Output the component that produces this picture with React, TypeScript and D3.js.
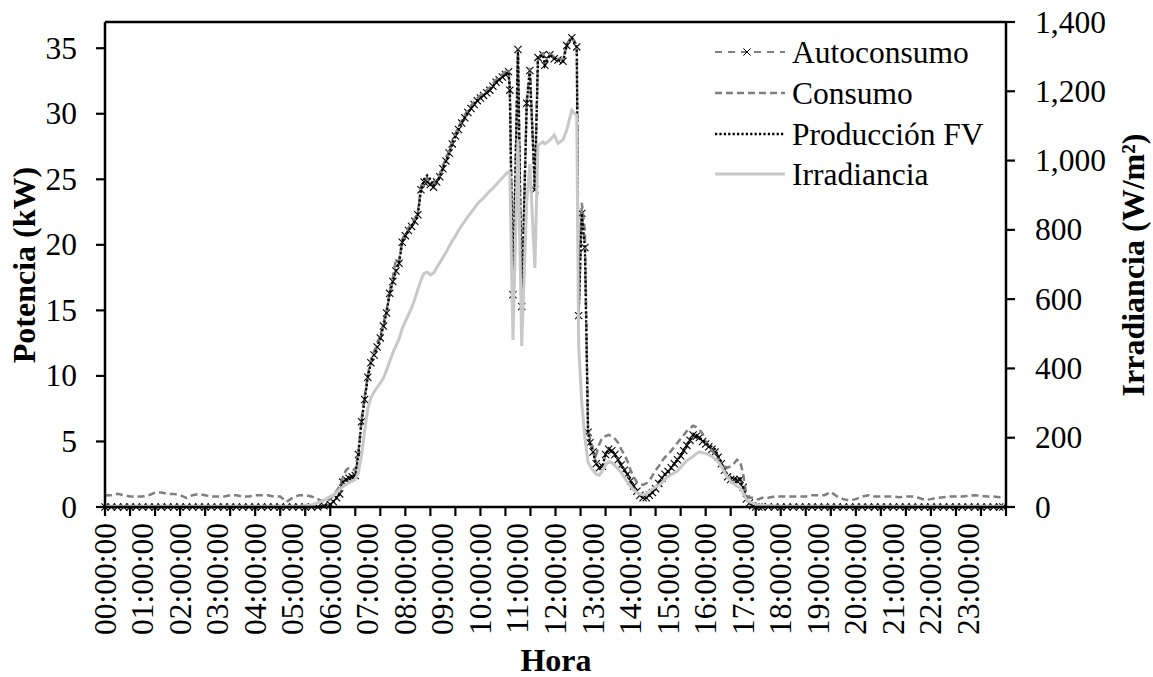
import React from "react";
import * as d3 from "d3";

// ---------- tick labels ----------
const hourLabels = [
  "00:00:00", "01:00:00", "02:00:00", "03:00:00", "04:00:00", "05:00:00",
  "06:00:00", "07:00:00", "08:00:00", "09:00:00", "10:00:00", "11:00:00",
  "12:00:00", "13:00:00", "14:00:00", "15:00:00", "16:00:00", "17:00:00",
  "18:00:00", "19:00:00", "20:00:00", "21:00:00", "22:00:00", "23:00:00",
];
const leftTicks = [0, 5, 10, 15, 20, 25, 30, 35];
const rightTicks = [0, 200, 400, 600, 800, 1000, 1200, 1400];
const seriesNames = ["Autoconsumo", "Consumo", "Producción FV", "Irradiancia"];

// ---------- data: night (00:00 - 05:50) ----------
const times1 = [
  "00:00", "00:10", "00:20", "00:30", "00:40", "00:50", "01:00", "01:10", "01:20", "01:30", "01:40", "01:50",
  "02:00", "02:10", "02:20", "02:30", "02:40", "02:50", "03:00", "03:10", "03:20", "03:30", "03:40", "03:50",
  "04:00", "04:10", "04:20", "04:30", "04:40", "04:50", "05:00", "05:10", "05:20", "05:30", "05:40", "05:50",
];
const auto1 = [0, 0, 0, 0, 0, 0, 0, 0, 0, 0, 0, 0, 0, 0, 0, 0, 0, 0, 0, 0, 0, 0, 0, 0, 0, 0, 0, 0, 0, 0, 0, 0, 0, 0, 0, 0.1];
const cons1 = [0.9, 0.9, 1.0, 0.9, 0.8, 0.8, 0.8, 0.9, 1.1, 1.1, 1.0, 1.0, 0.9, 0.7, 0.9, 1.0, 0.9, 0.8, 0.8, 0.8, 0.9, 0.9, 0.8, 0.8, 0.9, 0.9, 0.9, 0.8, 0.8, 0.4, 0.7, 0.9, 0.9, 0.8, 0.6, 0.4];
const prod1 = [0, 0, 0, 0, 0, 0, 0, 0, 0, 0, 0, 0, 0, 0, 0, 0, 0, 0, 0, 0, 0, 0, 0, 0, 0, 0, 0, 0, 0, 0, 0, 0, 0, 0, 0, 0.1];
const irr1 = [2, 2, 2, 2, 2, 2, 2, 2, 2, 2, 2, 2, 2, 2, 2, 2, 2, 2, 2, 2, 2, 2, 2, 2, 2, 2, 2, 2, 2, 2, 2, 2, 4, 6, 12, 20];

// ---------- data: morning (06:00 - 10:45) ----------
const times2 = [
  "06:00", "06:05", "06:10", "06:15", "06:20", "06:25", "06:30", "06:35", "06:40", "06:45", "06:50", "06:55",
  "07:00", "07:05", "07:10", "07:15", "07:20", "07:25", "07:30", "07:35", "07:40", "07:45", "07:50", "07:55",
  "08:00", "08:05", "08:10", "08:15", "08:20", "08:25", "08:30", "08:35", "08:40", "08:45", "08:50", "08:55",
  "09:00", "09:05", "09:10", "09:15", "09:20", "09:25", "09:30", "09:35", "09:40", "09:45", "09:50", "09:55",
  "10:00", "10:05", "10:10", "10:15", "10:20", "10:25", "10:30", "10:35", "10:40", "10:45",
];
const auto2 = [
  0.2, 0.4, 0.7, 1.0, 1.9, 2.1, 2.2, 2.3, 2.4, 4.0, 6.5, 8.2,
  9.9, 11.0, 11.6, 12.2, 12.9, 13.8, 14.8, 16.3, 17.2, 18.0, 18.6, 20.2,
  20.7, 21.1, 21.4, 21.8, 22.3, 24.2, 24.8, 24.8, 24.6, 24.4, 24.8, 25.2,
  25.8, 26.4, 27.0, 27.7, 28.3, 28.8, 29.3, 29.7, 30.1, 30.4, 30.7, 31.0,
  31.2, 31.4, 31.6, 31.8, 32.1, 32.4, 32.6, 32.8, 33.0, 33.2,
];
const cons2 = [
  0.6, 0.9, 1.2, 1.6, 2.2, 2.8, 3.0, 2.9, 2.8, 4.2, 6.7, 8.4,
  10.1, 11.2, 11.8, 12.4, 13.1, 14.0, 15.0, 16.5, 17.5, 18.9, 18.8, 20.4,
  20.9, 21.3, 21.6, 22.0, 22.5, 24.4, 25.0, 25.1, 24.9, 24.6, 25.0, 25.4,
  26.0, 26.6, 27.2, 27.9, 28.5, 29.0, 29.5, 29.9, 30.3, 30.6, 30.9, 31.2,
  31.4, 31.6, 31.8, 32.0, 32.3, 32.6, 32.8, 33.0, 33.2, 33.4,
];
const prod2 = [
  0.2, 0.4, 0.7, 1.0, 1.9, 2.1, 2.2, 2.3, 2.4, 4.0, 6.5, 8.2,
  9.9, 11.0, 11.6, 12.2, 12.9, 13.8, 14.8, 16.3, 17.2, 18.0, 18.6, 20.2,
  20.7, 21.1, 21.4, 21.8, 22.3, 24.2, 25.0, 25.3, 25.0, 24.5, 24.8, 25.2,
  25.8, 26.4, 27.0, 27.7, 28.3, 28.8, 29.3, 29.7, 30.1, 30.4, 30.7, 31.0,
  31.2, 31.4, 31.6, 31.8, 32.1, 32.4, 32.6, 32.8, 33.0, 33.2,
];
const irr2 = [
  30, 35, 42, 50, 58, 65, 70, 74, 80, 100, 150, 220,
  285, 315, 332, 345, 358, 372, 395, 420, 445, 465, 485, 515,
  535, 555, 575, 600, 628, 655, 675, 678, 670, 675, 690, 705,
  720, 735, 752, 768, 782, 798, 812, 825, 838, 850, 862, 874,
  884, 892, 902, 912, 920, 930, 940, 950, 960, 968,
];

// ---------- data: midday with cloud dips (10:47 - 12:52) ----------
const times3 = [
  "10:47", "10:52", "11:00", "11:06", "11:14", "11:19", "11:27", "11:32", "11:40", "11:43", "11:51",
  "11:58", "12:04", "12:12", "12:18", "12:26", "12:34", "12:37", "12:42", "12:47", "12:52",
];
const auto3 = [31.8, 16.2, 34.9, 15.3, 30.8, 33.3, 24.2, 34.3, 34.5, 33.7, 34.5, 34.2, 34.1, 34.0, 35.2, 35.8, 35.1, 14.6, 22.4, 19.8, 5.7];
const cons3 = [32.0, 16.4, 35.0, 15.5, 31.0, 33.5, 24.4, 34.4, 34.6, 33.9, 34.6, 34.3, 34.2, 34.1, 35.3, 35.9, 35.2, 14.8, 23.2, 21.0, 6.0];
const prod3 = [31.8, 16.2, 34.9, 15.3, 30.8, 33.3, 24.2, 34.3, 34.5, 33.7, 34.5, 34.2, 34.1, 34.0, 35.2, 35.8, 35.1, 14.6, 22.4, 19.8, 5.7];
const irr3 = [966, 482, 1059, 465, 880, 990, 690, 1045, 1054, 1048, 1059, 1074, 1050, 1060, 1088, 1145, 1130, 465, 300, 200, 130];

// ---------- data: afternoon (12:55 - 17:30) ----------
const times4 = [
  "12:55", "13:00", "13:05", "13:10", "13:15", "13:20", "13:25", "13:30", "13:35", "13:40", "13:45", "13:50",
  "13:55", "14:00", "14:05", "14:10", "14:15", "14:20", "14:25", "14:30", "14:35", "14:40", "14:45", "14:50",
  "14:55", "15:00", "15:05", "15:10", "15:15", "15:20", "15:25", "15:30", "15:35", "15:40", "15:45", "15:50",
  "15:55", "16:00", "16:05", "16:10", "16:15", "16:20", "16:25", "16:30", "16:35", "16:40", "16:45", "16:50",
  "16:55", "17:00", "17:05", "17:10", "17:15", "17:20", "17:25", "17:30",
];
const auto4 = [
  4.9, 4.2, 3.3, 3.0, 3.1, 4.0, 4.4, 4.3, 4.0, 3.6, 3.2, 2.8,
  2.5, 2.0, 1.6, 1.2, 0.9, 0.7, 0.7, 0.9, 1.1, 1.4, 1.8, 2.2,
  2.5, 2.7, 3.0, 3.3, 3.6, 3.9, 4.3, 4.7, 5.1, 5.5, 5.4, 5.3,
  5.0, 4.8, 4.6, 4.4, 4.2, 3.8, 3.3, 2.8, 2.3, 2.1, 2.1, 2.0,
  2.1, 1.5, 0.6, 0.3, 0.1, 0, 0, 0,
];
const cons4 = [
  5.2, 4.4, 4.0, 4.8, 5.3, 5.4, 5.5, 5.4, 5.2, 4.9, 4.4, 4.0,
  3.5, 2.8, 2.3, 1.9, 1.7, 1.7, 1.8, 2.0, 2.4, 2.8, 3.1, 3.5,
  3.8, 4.0, 4.3, 4.6, 4.9, 5.2, 5.5, 5.8, 6.0, 6.2, 6.1, 5.9,
  5.6, 5.0, 4.6, 4.3, 4.0, 3.7, 3.4, 3.1, 3.0, 3.1, 3.3, 3.6,
  3.5, 2.5, 0.9, 0.7, 0.7, 0.6, 0.6, 0.7,
];
const prod4 = [
  4.9, 4.2, 3.3, 3.0, 3.1, 4.0, 4.4, 4.3, 4.0, 3.6, 3.2, 2.8,
  2.5, 2.0, 1.6, 1.2, 0.9, 0.7, 0.7, 0.9, 1.1, 1.4, 1.8, 2.2,
  2.5, 2.7, 3.0, 3.3, 3.6, 3.9, 4.3, 4.7, 5.1, 5.5, 5.4, 5.3,
  5.1, 4.9, 4.7, 4.6, 4.4, 3.9, 3.4, 2.8, 2.3, 2.2, 2.2, 2.1,
  2.1, 1.5, 0.6, 0.3, 0.1, 0, 0, 0,
];
const irr4 = [
  120, 105, 95, 92, 105, 122, 130, 128, 120, 110, 100, 85,
  72, 60, 50, 42, 37, 35, 38, 45, 52, 58, 63, 70,
  80, 88, 94, 99, 104, 115, 125, 134, 140, 146, 154, 159,
  157, 154, 151, 146, 138, 130, 118, 100, 85, 75, 66, 60,
  56, 40, 22, 15, 11, 8, 6, 5,
];

// ---------- data: evening / night (17:40 - 23:55) ----------
const times5 = [
  "17:40", "17:50", "18:00", "18:10", "18:20", "18:30", "18:40", "18:50", "19:00", "19:10", "19:20", "19:30",
  "19:40", "19:50", "20:00", "20:10", "20:20", "20:30", "20:40", "20:50", "21:00", "21:10", "21:20", "21:30",
  "21:40", "21:50", "22:00", "22:10", "22:20", "22:30", "22:40", "22:50", "23:00", "23:10", "23:20", "23:30",
  "23:40", "23:50", "23:55",
];
const auto5 = [0, 0, 0, 0, 0, 0, 0, 0, 0, 0, 0, 0, 0, 0, 0, 0, 0, 0, 0, 0, 0, 0, 0, 0, 0, 0, 0, 0, 0, 0, 0, 0, 0, 0, 0, 0, 0, 0, 0];
const cons5 = [
  0.7, 0.8, 0.8, 0.8, 0.8, 0.8, 0.8, 0.9, 0.9, 0.9, 1.15, 0.8,
  0.6, 0.5, 0.6, 0.8, 0.9, 0.8, 0.8, 0.8, 0.8, 0.75, 0.8, 0.8,
  0.7, 0.55, 0.6, 0.7, 0.75, 0.8, 0.8, 0.8, 0.85, 0.9, 0.85, 0.8,
  0.8, 0.75, 0.75,
];
const prod5 = [0, 0, 0, 0, 0, 0, 0, 0, 0, 0, 0, 0, 0, 0, 0, 0, 0, 0, 0, 0, 0, 0, 0, 0, 0, 0, 0, 0, 0, 0, 0, 0, 0, 0, 0, 0, 0, 0, 0];
const irr5 = [4, 3, 2, 2, 2, 2, 2, 2, 2, 2, 2, 2, 2, 2, 2, 2, 2, 2, 2, 2, 2, 2, 2, 2, 2, 2, 2, 2, 2, 2, 2, 2, 2, 2, 2, 2, 2, 2, 2];

const times = [...times1, ...times2, ...times3, ...times4, ...times5];
const autoconsumo = [...auto1, ...auto2, ...auto3, ...auto4, ...auto5];
const consumo = [...cons1, ...cons2, ...cons3, ...cons4, ...cons5];
const produccion = [...prod1, ...prod2, ...prod3, ...prod4, ...prod5];
const irradiancia = [...irr1, ...irr2, ...irr3, ...irr4, ...irr5];

const toMin = (s: string) => {
  const [h, m] = s.split(":").map(Number);
  return h * 60 + m;
};

const W = 1153;
const H = 677;
const L = 105;
const R = 1006;
const T = 22;
const B = 507;
const FONT = "'Liberation Serif', 'Times New Roman', serif";
const FS = 31.5;
const FT = 32;

export default function App() {
  const x = d3.scaleLinear().domain([0, 1440]).range([L, R]);
  const yL = d3.scaleLinear().domain([0, 37]).range([B, T]);
  const yR = d3.scaleLinear().domain([0, 1400]).range([B, T]);
  const mins = times.map(toMin);

  const lineL = (vals: number[]) =>
    d3.line<number>().x((_, i) => x(mins[i])).y((v) => yL(v))(vals) || "";
  const lineR = (vals: number[]) =>
    d3.line<number>().x((_, i) => x(mins[i])).y((v) => yR(v))(vals) || "";

  const xTicks = d3.range(0, 1441, 40);
  const hourPos = hourLabels.map((_, i) => i * 60);
  const fmt = d3.format(",");

  const mk = 3.6;
  const cross = (cx: number, cy: number, key: string | number, sw = 1.1) => (
    <path
      key={key}
      d={`M${cx - mk},${cy - mk}L${cx + mk},${cy + mk}M${cx - mk},${cy + mk}L${cx + mk},${cy - mk}`}
      stroke="#000"
      strokeWidth={sw}
      fill="none"
    />
  );

  const legY = [52, 93, 134, 174];
  const legX0 = 715;
  const legX1 = 785;

  return (
    <svg
      width={W}
      height={H}
      style={{ position: "absolute", left: 0, top: 0, background: "#fff" }}
      fontFamily={FONT}
    >
      <rect x={0} y={0} width={W} height={H} fill="#fff" />

      {/* series */}
      <path d={lineL(autoconsumo)} fill="none" stroke="#808080" strokeWidth={2.2} strokeDasharray="7,6" />
      <g>{autoconsumo.map((v, i) => cross(x(mins[i]), yL(v), i))}</g>
      <path d={lineL(consumo)} fill="none" stroke="#7f7f7f" strokeWidth={2.5} strokeDasharray="7,4" />
      <path d={lineL(produccion)} fill="none" stroke="#000" strokeWidth={2.3} strokeDasharray="2.2,2.2" />
      <path d={lineR(irradiancia)} fill="none" stroke="#c8c8c8" strokeWidth={3} />

      {/* frame & axes */}
      <line x1={L} x2={R} y1={T} y2={T} stroke="#000" strokeWidth={2.5} />
      <line x1={L} x2={L} y1={T} y2={B} stroke="#000" strokeWidth={2.5} />
      <line x1={R} x2={R} y1={T} y2={B} stroke="#000" strokeWidth={2.5} />
      <line x1={L} x2={R} y1={B} y2={B} stroke="#000" strokeWidth={2.5} />

      {/* left axis */}
      {leftTicks.map((v) => (
        <g key={`l${v}`}>
          <line x1={L - 9} x2={L} y1={yL(v)} y2={yL(v)} stroke="#000" strokeWidth={2.2} />
          <text x={77} y={yL(v)} textAnchor="end" dominantBaseline="central" fontSize={FS}>
            {v}
          </text>
        </g>
      ))}

      {/* right axis */}
      {rightTicks.map((v) => (
        <g key={`r${v}`}>
          <line x1={R} x2={R + 9} y1={yR(v)} y2={yR(v)} stroke="#000" strokeWidth={2.2} />
          <text x={1035} y={yR(v)} textAnchor="start" dominantBaseline="central" fontSize={FS}>
            {fmt(v)}
          </text>
        </g>
      ))}

      {/* x axis ticks */}
      {xTicks.map((m) => (
        <line key={`t${m}`} x1={x(m)} x2={x(m)} y1={B} y2={B + 9} stroke="#000" strokeWidth={2.2} />
      ))}
      {hourLabels.map((lab, i) => (
        <text
          key={lab}
          transform={`translate(${x(hourPos[i])},${523}) rotate(-90)`}
          textAnchor="end"
          dominantBaseline="central"
          fontSize={FS}
        >
          {lab}
        </text>
      ))}

      {/* axis titles */}
      <text
        transform={`translate(24,265) rotate(-90)`}
        textAnchor="middle"
        dominantBaseline="central"
        fontSize={FT}
        fontWeight="bold"
      >
        Potencia (kW)
      </text>
      <text
        transform={`translate(1133,265) rotate(-90)`}
        textAnchor="middle"
        dominantBaseline="central"
        fontSize={FT}
        fontWeight="bold"
      >
        Irradiancia (W/m²)
      </text>
      <text x={556} y={660} textAnchor="middle" dominantBaseline="central" fontSize={FT} fontWeight="bold">
        Hora
      </text>

      {/* legend */}
      <g>
        <line x1={legX0} x2={legX1} y1={legY[0]} y2={legY[0]} stroke="#808080" strokeWidth={2.2} strokeDasharray="7,6" />
        {cross((legX0 + legX1) / 2 - 3, legY[0], "lg", 1)}
        <line x1={legX0} x2={legX1} y1={legY[1]} y2={legY[1]} stroke="#7f7f7f" strokeWidth={2.5} strokeDasharray="7,4" />
        <line x1={legX0} x2={legX1} y1={legY[2]} y2={legY[2]} stroke="#000" strokeWidth={2.3} strokeDasharray="2.2,2.2" />
        <line x1={legX0} x2={legX1} y1={legY[3]} y2={legY[3]} stroke="#c8c8c8" strokeWidth={3} />
        {seriesNames.map((n, i) => (
          <text key={n} x={792} y={legY[i]} dominantBaseline="central" fontSize={FS}>
            {n}
          </text>
        ))}
      </g>
    </svg>
  );
}
